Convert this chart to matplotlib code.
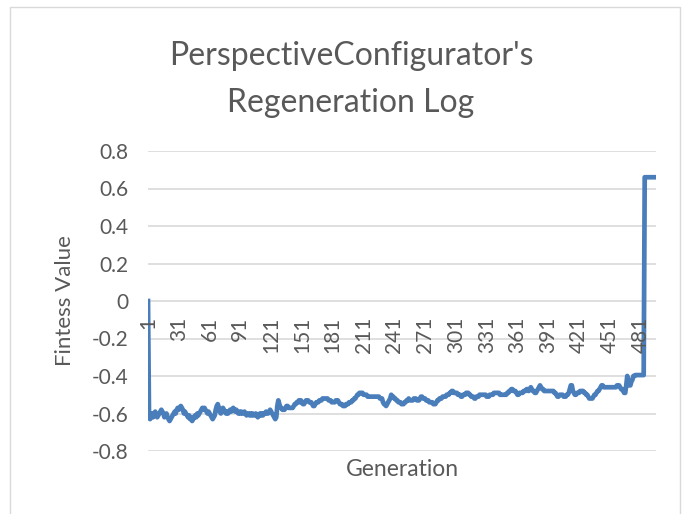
import matplotlib
matplotlib.use("Agg")
import matplotlib.pyplot as plt
from matplotlib.patches import Rectangle
import numpy as np

# fitness value per generation
fitness = [
    0.0, -0.62, -0.63, -0.61, -0.60, -0.62, -0.60, -0.59, -0.61, -0.62,
    -0.61, -0.60, -0.59, -0.58, -0.59, -0.60, -0.62, -0.61, -0.60, -0.62,
    -0.63, -0.64, -0.63, -0.62, -0.61, -0.60, -0.59, -0.60, -0.58, -0.57,
    -0.58, -0.57, -0.56, -0.57, -0.58, -0.60, -0.59, -0.60, -0.61, -0.62,
    -0.61, -0.63, -0.62, -0.64, -0.63, -0.62, -0.61, -0.62, -0.60, -0.61,
    -0.60, -0.59, -0.58, -0.57, -0.58, -0.57, -0.58, -0.59, -0.60, -0.59,
    -0.60, -0.61, -0.62, -0.63, -0.62, -0.61, -0.58, -0.56, -0.55, -0.57,
    -0.59, -0.60, -0.58, -0.57, -0.58, -0.59, -0.60, -0.59, -0.60, -0.59,
    -0.58, -0.59, -0.58, -0.57, -0.58, -0.59, -0.58, -0.59, -0.60, -0.59,
    -0.60, -0.59, -0.60, -0.60, -0.59, -0.60, -0.61, -0.60, -0.60, -0.61,
    -0.60, -0.61, -0.60, -0.61, -0.61, -0.60, -0.61, -0.62, -0.61, -0.60,
    -0.61, -0.60, -0.61, -0.60, -0.60, -0.59, -0.60, -0.60, -0.59, -0.58,
    -0.59, -0.60, -0.61, -0.62, -0.63, -0.62, -0.56, -0.53, -0.55, -0.57,
    -0.57, -0.58, -0.58, -0.58, -0.57, -0.56, -0.56, -0.57, -0.57, -0.57,
    -0.57, -0.57, -0.56, -0.55, -0.55, -0.54, -0.54, -0.53, -0.54, -0.53,
    -0.54, -0.55, -0.55, -0.54, -0.53, -0.53, -0.53, -0.54, -0.54, -0.54,
    -0.55, -0.56, -0.56, -0.55, -0.54, -0.54, -0.54, -0.53, -0.53, -0.53,
    -0.52, -0.52, -0.52, -0.52, -0.52, -0.52, -0.53, -0.53, -0.53, -0.54,
    -0.54, -0.54, -0.54, -0.53, -0.53, -0.53, -0.54, -0.55, -0.55, -0.55,
    -0.56, -0.56, -0.56, -0.55, -0.55, -0.55, -0.54, -0.54, -0.54, -0.53,
    -0.53, -0.52, -0.52, -0.51, -0.50, -0.50, -0.49, -0.49, -0.49, -0.49,
    -0.50, -0.50, -0.50, -0.50, -0.51, -0.51, -0.51, -0.51, -0.51, -0.51,
    -0.51, -0.51, -0.51, -0.51, -0.51, -0.51, -0.52, -0.52, -0.52, -0.54,
    -0.55, -0.55, -0.56, -0.55, -0.54, -0.53, -0.52, -0.50, -0.51, -0.51,
    -0.52, -0.52, -0.53, -0.53, -0.54, -0.54, -0.54, -0.55, -0.55, -0.55,
    -0.54, -0.54, -0.53, -0.53, -0.52, -0.53, -0.53, -0.53, -0.53, -0.52,
    -0.52, -0.52, -0.53, -0.53, -0.53, -0.52, -0.51, -0.51, -0.52, -0.52,
    -0.52, -0.53, -0.53, -0.53, -0.54, -0.54, -0.54, -0.54, -0.55, -0.55,
    -0.55, -0.54, -0.53, -0.53, -0.52, -0.52, -0.52, -0.51, -0.51, -0.51,
    -0.51, -0.50, -0.50, -0.50, -0.49, -0.49, -0.48, -0.48, -0.49, -0.49,
    -0.49, -0.49, -0.50, -0.50, -0.50, -0.51, -0.51, -0.50, -0.50, -0.50,
    -0.49, -0.49, -0.49, -0.50, -0.50, -0.51, -0.51, -0.51, -0.52, -0.52,
    -0.51, -0.51, -0.51, -0.50, -0.50, -0.50, -0.50, -0.50, -0.50, -0.50,
    -0.51, -0.51, -0.51, -0.50, -0.50, -0.50, -0.50, -0.49, -0.49, -0.49,
    -0.49, -0.49, -0.49, -0.50, -0.50, -0.50, -0.50, -0.50, -0.50, -0.50,
    -0.49, -0.49, -0.48, -0.48, -0.47, -0.47, -0.48, -0.48, -0.48, -0.49,
    -0.50, -0.50, -0.49, -0.49, -0.49, -0.49, -0.48, -0.48, -0.48, -0.47,
    -0.47, -0.48, -0.47, -0.46, -0.47, -0.48, -0.48, -0.49, -0.49, -0.48,
    -0.47, -0.46, -0.45, -0.46, -0.47, -0.47, -0.48, -0.48, -0.48, -0.48,
    -0.48, -0.48, -0.48, -0.48, -0.48, -0.48, -0.49, -0.49, -0.50, -0.51,
    -0.51, -0.50, -0.50, -0.50, -0.50, -0.51, -0.51, -0.51, -0.50, -0.50,
    -0.49, -0.47, -0.45, -0.45, -0.48, -0.49, -0.50, -0.50, -0.49, -0.49,
    -0.49, -0.48, -0.48, -0.48, -0.48, -0.49, -0.49, -0.50, -0.50, -0.51,
    -0.52, -0.52, -0.52, -0.52, -0.51, -0.50, -0.50, -0.49, -0.48, -0.48,
    -0.47, -0.46, -0.45, -0.45, -0.46, -0.46, -0.46, -0.46, -0.46, -0.46,
    -0.46, -0.46, -0.46, -0.46, -0.46, -0.46, -0.46, -0.45, -0.45, -0.45,
    -0.46, -0.47, -0.47, -0.48, -0.49, -0.49, -0.45, -0.40, -0.42, -0.45,
    -0.45, -0.43, -0.42, -0.40, -0.40, -0.395, -0.395, -0.395, -0.395, -0.395,
    -0.395, -0.395, -0.395, -0.395,
    0.66, 0.66, 0.66, 0.66, 0.66, 0.66, 0.66, 0.66, 0.66, 0.66, 0.66, 0.66,
]
generations = list(range(1, len(fitness) + 1))
x_tick_labels = [str(g) for g in range(1, 482, 30)]
y_ticks = [-0.8, -0.6, -0.4, -0.2, 0, 0.2, 0.4, 0.6, 0.8]

title_lines = ["PerspectiveConfigurator's", "Regeneration Log"]
x_title = "Generation"
y_title = "Fintess Value"

plt.rcParams['font.family'] = ['Lato', 'DejaVu Sans']
txt = '#595959'
grid_c = '#D9D9D9'

fig = plt.figure(figsize=(6.88, 5.14), dpi=100)
fig.patches.append(Rectangle((10/688, -0.01), 670/688, 1 - 7/514 + 0.01,
                             transform=fig.transFigure, fill=False,
                             edgecolor=grid_c, lw=1))

ax = fig.add_axes([148/688, 1 - 451/514, 508/688, 300/514])
ax.plot(generations, fitness, color='#4A7EBB', lw=3.4, solid_joinstyle='round')
ax.set_xlim(1, len(fitness))
ax.set_ylim(-0.8, 0.8)
ax.set_yticks(y_ticks)
ax.set_yticklabels(['0' if v == 0 else f'{v:.1f}' for v in y_ticks],
                   color=txt, fontsize=15)
ax.yaxis.grid(True, color=grid_c, lw=1.2)
ax.set_axisbelow(True)
ax.tick_params(axis='y', length=0, pad=14)
ax.set_xticks([])
for s in ax.spines.values():
    s.set_visible(False)

# category labels sit under the axis line at zero
for lab in x_tick_labels:
    ax.text(int(lab), -0.085, lab, rotation=90, ha='center', va='top',
            color=txt, fontsize=15)

ax.set_ylabel(y_title, color=txt, fontsize=16, labelpad=12)
fig.text(402/688, 1 - 469/514, x_title, ha='center', va='center',
         color=txt, fontsize=16.5)
fig.text(351/688, 1 - 65/514, title_lines[0], ha='center', va='baseline',
         color=txt, fontsize=23)
fig.text(351/688, 1 - 112/514, title_lines[1], ha='center', va='baseline',
         color=txt, fontsize=23)

fig.savefig('out.png', dpi=100)
